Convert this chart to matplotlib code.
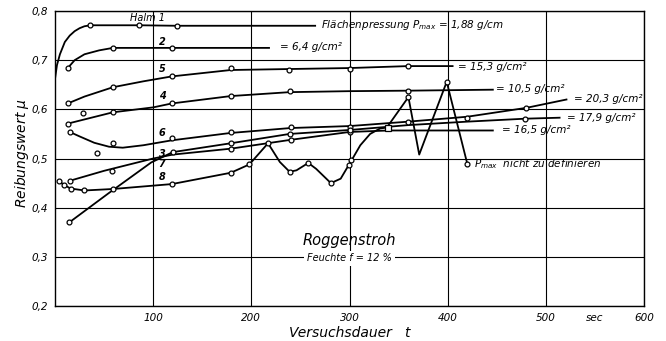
import numpy as np
import matplotlib
matplotlib.use("Agg")
import matplotlib.pyplot as plt

plt.rcParams['font.family'] = ['DejaVu Sans']
plt.rcParams['font.style'] = 'italic'
plt.rcParams['mathtext.default'] = 'it'

# Kurvenverlauf (Linie) je Halm
h1_x = [0, 2, 5, 10, 15, 20, 25, 30, 36, 86, 124, 265]
h1_y = [0.662, 0.690, 0.712, 0.737, 0.750, 0.759, 0.765, 0.769, 0.771, 0.771, 0.770, 0.770]
h2_x = [13, 20, 30, 45, 59, 119, 218]
h2_y = [0.684, 0.700, 0.712, 0.720, 0.725, 0.725, 0.725]
h5_x = [13, 30, 59, 90, 119, 179, 238, 300, 360, 405]
h5_y = [0.612, 0.626, 0.645, 0.657, 0.667, 0.680, 0.682, 0.684, 0.688, 0.688]
h4_x = [13, 59, 100, 119, 179, 239, 300, 360, 446]
h4_y = [0.571, 0.594, 0.604, 0.612, 0.627, 0.635, 0.637, 0.638, 0.640]
h6_x = [15, 25, 40, 55, 69, 90, 119, 179, 240, 300, 360, 420, 480, 521]
h6_y = [0.554, 0.545, 0.532, 0.524, 0.522, 0.527, 0.537, 0.552, 0.562, 0.566, 0.575, 0.585, 0.603, 0.620]
h3_x = [15.5, 50, 100, 120, 179, 240, 300, 340, 446]
h3_y = [0.455, 0.475, 0.500, 0.508, 0.520, 0.538, 0.554, 0.557, 0.557]
h7_x = [14.5, 55, 98, 120, 179, 239, 300, 360, 420, 479, 514]
h7_y = [0.370, 0.430, 0.492, 0.513, 0.531, 0.550, 0.558, 0.568, 0.575, 0.581, 0.583]
h8_x = [4, 8.7, 15.8, 30, 59, 119, 179, 198, 217, 229, 239, 246, 258, 266, 281, 291, 299,
        302, 311, 321, 331, 338, 360, 371, 399, 420]
h8_y = [0.454, 0.447, 0.439, 0.435, 0.438, 0.448, 0.471, 0.488, 0.531, 0.493, 0.473, 0.476,
        0.491, 0.479, 0.450, 0.459, 0.486, 0.496, 0.527, 0.550, 0.561, 0.563, 0.625, 0.508,
        0.656, 0.489]

# Messpunkte (Kreise)
m1_x = [36, 86, 124]
m1_y = [0.771, 0.771, 0.770]
m2_x = [13, 59, 119]
m2_y = [0.684, 0.725, 0.725]
m5_x = [13, 59, 119, 179, 238, 300, 360]
m5_y = [0.612, 0.645, 0.667, 0.684, 0.680, 0.683, 0.688]
m4_x = [13, 29, 59, 119, 179, 239, 360]
m4_y = [0.571, 0.592, 0.594, 0.612, 0.627, 0.637, 0.637]
m6_x = [15, 43, 59, 119, 179, 240, 300, 360, 420, 480]
m6_y = [0.554, 0.512, 0.531, 0.542, 0.554, 0.565, 0.565, 0.575, 0.583, 0.603]
m3_x = [15.5, 58, 179, 240, 300]
m3_y = [0.455, 0.475, 0.520, 0.538, 0.554]
m7_x = [14.5, 120, 179, 239, 300, 479]
m7_y = [0.370, 0.513, 0.531, 0.550, 0.558, 0.581]
m8_x = [4, 8.7, 15.8, 30, 59, 119, 179, 198, 217, 239, 258, 281, 299, 302, 360, 399, 420]
m8_y = [0.454, 0.447, 0.439, 0.435, 0.438, 0.448, 0.471, 0.488, 0.531, 0.473, 0.491, 0.450,
        0.486, 0.496, 0.625, 0.656, 0.489]

# Beschriftungen
nummern = ['2', '5', '4', '6', '3', '7', '8']
nummern_y = [0.737, 0.682, 0.627, 0.552, 0.510, 0.488, 0.462]
druck_text = ['Flächenpressung $P_{max}$ = 1,88 g/cm', '= 6,4 g/cm²', '= 15,3 g/cm²',
              '= 10,5 g/cm²', '= 20,3 g/cm²', '= 17,9 g/cm²', '= 16,5 g/cm²',
              '$P_{max}$  nicht zu definieren']
druck_x = [271, 229, 411, 449, 529, 522, 455, 427]
druck_y = [0.771, 0.727, 0.686, 0.641, 0.621, 0.583, 0.559, 0.489]

fig = plt.figure(figsize=(6.66, 3.41), dpi=100)
ax = fig.add_axes([0.0826, 0.1026, 0.8844, 0.8651])

linien = [(h1_x, h1_y), (h2_x, h2_y), (h5_x, h5_y), (h4_x, h4_y),
          (h6_x, h6_y), (h3_x, h3_y), (h7_x, h7_y), (h8_x, h8_y)]
punkte = [(m1_x, m1_y), (m2_x, m2_y), (m5_x, m5_y), (m4_x, m4_y),
          (m6_x, m6_y), (m3_x, m3_y), (m7_x, m7_y), (m8_x, m8_y)]

for lx, ly in linien:
    ax.plot(lx, ly, color='black', lw=1.3, zorder=3)
for px, py in punkte:
    ax.plot(px, py, 'o', ms=3.5, mfc='white', mec='black', mew=0.9, zorder=4)

# kleines Rechteck auf Kurve 8
ax.plot([339], [0.562], marker='s', ms=5, mfc='white', mec='black', mew=0.9, zorder=4)

ax.text(94, 0.786, 'Halm 1', fontsize=7, ha='center', va='center')
for n, ny in zip(nummern, nummern_y):
    ax.text(109, ny, n, fontsize=7, ha='center', va='center', weight='bold')
for t, tx, ty in zip(druck_text, druck_x, druck_y):
    ax.text(tx, ty, t, fontsize=7.5, ha='left', va='center')

ax.text(300, 0.333, 'Roggenstroh', fontsize=10.5, ha='center', va='center')
ax.text(300, 0.297, 'Feuchte f = 12 %', fontsize=7, ha='center', va='center',
        bbox=dict(facecolor='white', edgecolor='none', pad=2))

ax.set_xlim(0, 600)
ax.set_ylim(0.2, 0.8)
ax.set_xticks([100, 200, 300, 400, 500, 600])
ax.set_xticklabels(['100', '200', '300', '400', '500', '600'])
ax.set_xticks([550], minor=True)
ax.set_xticklabels(['sec'], minor=True)
ax.set_yticks([0.2, 0.3, 0.4, 0.5, 0.6, 0.7, 0.8])
ax.set_yticklabels(['0,2', '0,3', '0,4', '0,5', '0,6', '0,7', '0,8'])
ax.tick_params(which='both', length=0, labelsize=7.5, pad=5)
ax.grid(True, which='major', color='black', lw=0.8)
for s in ax.spines.values():
    s.set_linewidth(1.0)

ax.set_xlabel('Versuchsdauer   t', fontsize=10, labelpad=2)
ax.set_ylabel('Reibungswert $\\mu$', fontsize=10)
ax.yaxis.set_label_coords(-0.041, 0.52)

fig.savefig('out.png', dpi=100)
